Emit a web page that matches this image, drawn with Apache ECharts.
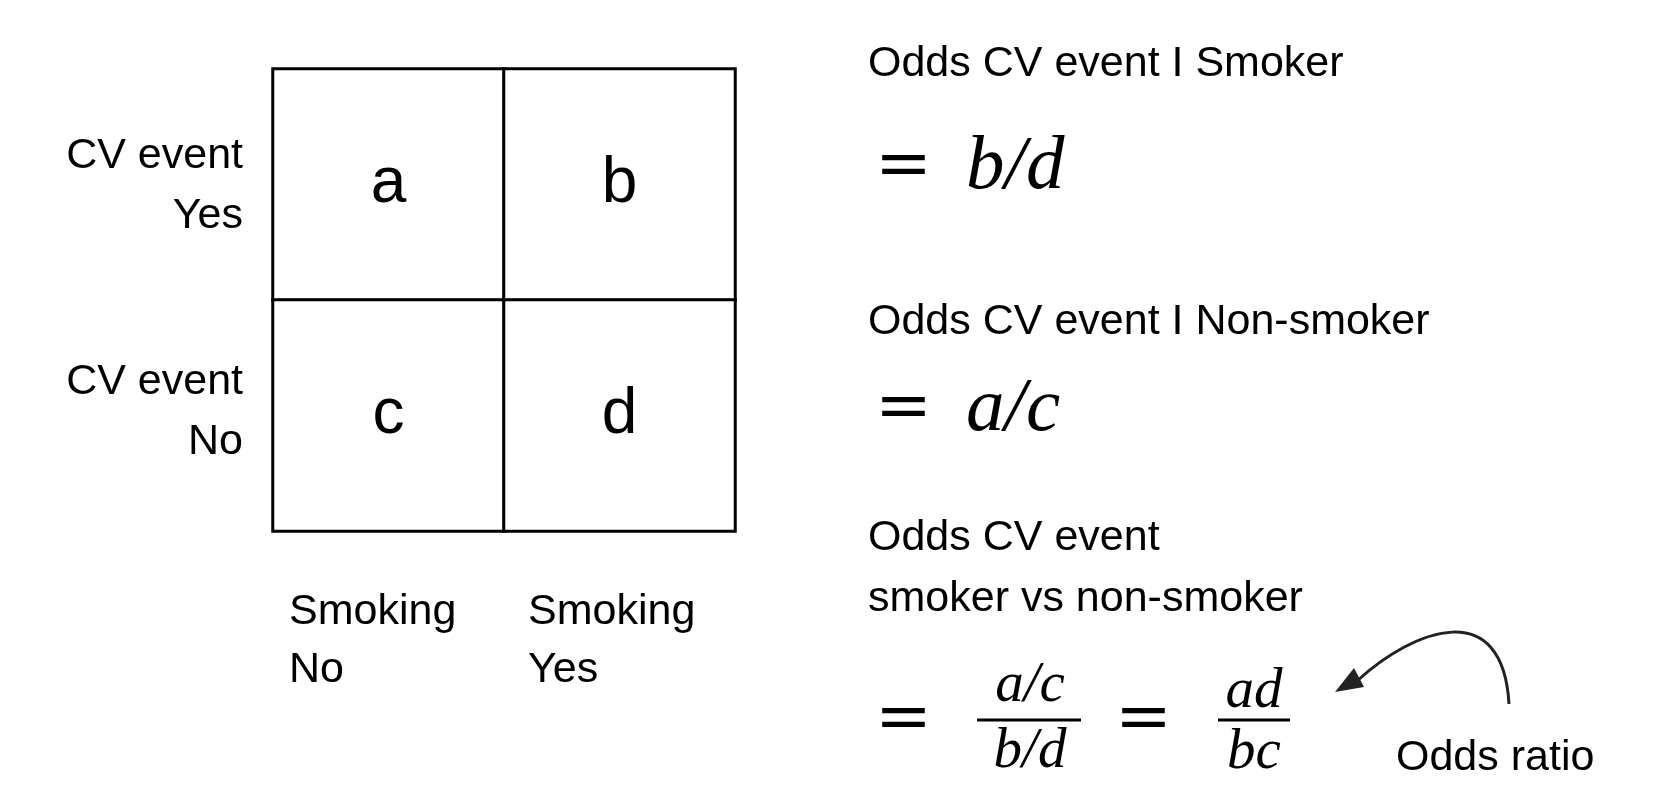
<!DOCTYPE html>
<html><head><meta charset="utf-8">
<script src="https://cdn.jsdelivr.net/npm/echarts@6/dist/echarts.min.js"></script>
<style>html,body{margin:0;background:#fff}#c{width:1660px;height:802px}</style></head>
<body><div id="c"></div>
<script>
const smoking = ['No','Yes'];
const cvEvent = ['No','Yes'];
const cells = [[0,1,'a'],[1,1,'b'],[0,0,'c'],[1,0,'d']];
const rowLabels = [['CV event','Yes'],['CV event','No']];
const colLabels = [['Smoking','No'],['Smoking','Yes']];
const K = 1660/1560;
const F = 'Helvetica, "Liberation Sans", Arial, sans-serif';
const S = '"DejaVu Serif","Liberation Serif",serif';
const IT = '"Liberation Serif",serif';
const chart = echarts.init(document.getElementById('c'));
const px = v => Math.round(v*K);
const t = (x,y,text,o={}) => ({type:'text',x:px(x),y:px(y),style:Object.assign({text,font:px(40)+'px '+F,fill:'#000',textVerticalAlign:'middle'},o)});
const g = [];
rowLabels.forEach((r,k)=>{g.push(t(228,147+212*k,r[0],{textAlign:'right'}),t(228,203+212*k,r[1],{textAlign:'right'}));});
colLabels.forEach((c,k)=>{g.push(t(272+224*k,575,c[0]),t(272+224*k,630,c[1]));});
g.push(t(816,60,'Odds CV event I Smoker'),t(816,303,'Odds CV event I Non-smoker'),t(816,506,'Odds CV event'),t(816,563,'smoker vs non-smoker'));
const eq = (x,y) => ({type:'text',x:px(x),y:px(y),style:{text:'=',font:px(64)+'px '+S,textVerticalAlign:'middle'}});
const it = (x,y,s,size,al) => ({type:'text',x:px(x),y:px(y),style:{text:s,font:'italic '+px(size)+'px '+IT,textAlign:al||'left',textVerticalAlign:'middle'}});
g.push(eq(822,158), it(908,158,'b/d',72));
g.push(eq(822,385), it(908,385,'a/c',72));
g.push(eq(822,678), eq(1048,678));
g.push(it(968,645,'a/c',54,'center'), it(968,707,'b/d',54,'center'));
g.push({type:'line',shape:{x1:px(918),y1:px(677),x2:px(1016),y2:px(677)},style:{stroke:'#000',lineWidth:3}});
g.push(it(1178,650,'ad',54,'center'), it(1178,708,'bc',54,'center'));
g.push({type:'line',shape:{x1:px(1145),y1:px(677),x2:px(1212),y2:px(677)},style:{stroke:'#000',lineWidth:3}});
g.push(t(1312,712,'Odds ratio'));
g.push({type:'bezierCurve',shape:{x1:px(1418),y1:px(662),cpx1:px(1412),cpy1:px(560),x2:px(1275),y2:px(640),cpx2:px(1330),cpy2:px(590)},style:{stroke:'#222',lineWidth:3,fill:null}});
g.push({type:'polygon',shape:{points:[[px(1255),px(650)],[px(1272),px(628)],[px(1282),px(646)]]},style:{fill:'#222'}});
chart.setOption({
  animation:false,
  grid:{left:px(257),top:px(65),width:px(434),height:px(434)},
  xAxis:{type:'category',data:smoking,show:false},
  yAxis:{type:'category',data:cvEvent,show:false},
  visualMap:{show:false,min:0,max:1,inRange:{color:['#fff','#fff']}},
  series:[{type:'heatmap',data:cells.map(c=>({value:[c[0],c[1],1],name:c[2]})),
    itemStyle:{color:'#fff',borderColor:'#000',borderWidth:3},
    label:{show:true,formatter:p=>p.name,fontSize:px(60),fontFamily:F,color:'#000'}}],
  graphic:g
});
</script></body></html>
